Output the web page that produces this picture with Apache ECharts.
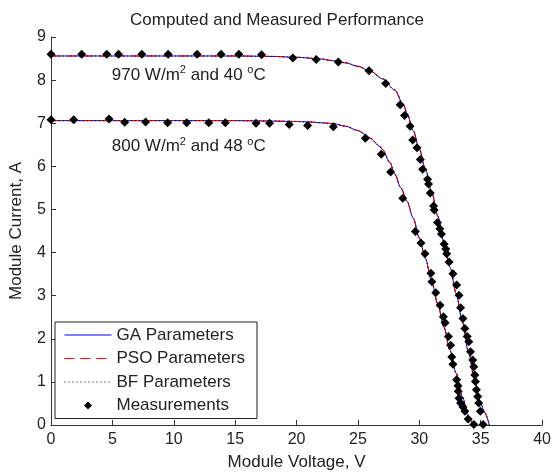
<!DOCTYPE html>
<html>
<head>
<meta charset="utf-8">
<title>Computed and Measured Performance</title>
<script src="https://cdn.jsdelivr.net/npm/echarts@6/dist/echarts.min.js"></script>
<style>
  html, body { margin: 0; padding: 0; background: #fff; }
  #chart { width: 554px; height: 476px; }
</style>
</head>
<body>
<div id="chart"></div>
<script>
// 模型曲线 (GA / PSO / BF 三组参数的曲线在图上重合)
var voltsHigh = [0, 5, 10, 15, 18, 20, 22, 23, 24, 25, 26, 27, 28, 28.7, 29, 29.5, 30, 30.5, 31, 31.5, 32, 32.5, 33, 33.5, 34, 34.5, 35, 35.3, 35.7];
var ampsHigh  = [8.56, 8.56, 8.56, 8.56, 8.55, 8.53, 8.49, 8.45, 8.40, 8.32, 8.21, 8.03, 7.77, 7.43, 7.23, 6.83, 6.40, 5.93, 5.41, 4.85, 4.25, 3.66, 3.05, 2.40, 1.70, 1.05, 0.50, 0.30, 0];

var voltsLow = [0, 5, 10, 15, 18, 20, 21, 22, 23, 24, 25, 25.6, 26, 26.8, 27, 27.6, 28, 28.5, 29, 29.5, 30, 30.5, 31, 31.5, 32, 32.5, 33, 33.5, 34, 34.35];
var ampsLow  = [7.06, 7.06, 7.06, 7.06, 7.05, 7.04, 7.03, 7.01, 6.99, 6.93, 6.83, 6.74, 6.65, 6.46, 6.39, 6.09, 5.82, 5.50, 5.19, 4.80, 4.34, 3.86, 3.33, 2.81, 2.27, 1.73, 1.20, 0.66, 0.18, 0];

// 实测点
var measVHigh = [0, 2.5, 4.54, 5.5, 7.4, 9.54, 11.9, 13.85, 15.3, 17.15, 19.7, 21.6, 23.4, 25.9, 27.26, 28.44, 28.79, 29.25, 29.46, 29.81, 30.08, 30.27, 30.67, 30.75, 30.89, 31.16, 31.21, 31.48, 31.67, 31.8, 32.02, 32.15, 32.23, 32.42, 32.74, 33.04, 33.23, 33.36, 33.55, 33.71, 33.9, 34.03, 34.17, 34.35, 34.44, 34.52, 34.57, 34.65, 34.76, 34.84, 34.97, 35.19];
var measIHigh = [8.60, 8.60, 8.60, 8.60, 8.60, 8.60, 8.60, 8.60, 8.60, 8.59, 8.51, 8.48, 8.42, 8.22, 7.92, 7.43, 7.18, 6.93, 6.61, 6.43, 6.16, 5.93, 5.70, 5.59, 5.38, 5.08, 4.99, 4.70, 4.55, 4.43, 4.20, 4.08, 3.97, 3.78, 3.51, 3.25, 3.01, 2.72, 2.47, 2.24, 2.05, 1.93, 1.70, 1.51, 1.35, 1.16, 1.01, 0.82, 0.66, 0.51, 0.32, 0.01];

var measVLow = [0, 1.85, 4.73, 6.0, 7.7, 9.5, 11.05, 12.85, 14.2, 16.7, 17.8, 19.4, 20.9, 23.0, 25.6, 26.9, 27.66, 28.65, 29.68, 30.13, 30.46, 30.94, 31.02, 31.34, 31.69, 31.96, 32.1, 32.37, 32.55, 32.64, 32.74, 33.04, 33.15, 33.17, 33.23, 33.36, 33.55, 33.71, 33.98, 34.44];
var measILow = [7.08, 7.08, 7.10, 7.02, 7.03, 7.01, 7.01, 7.01, 7.01, 7.00, 7.00, 6.97, 6.95, 6.92, 6.65, 6.28, 5.87, 5.26, 4.49, 4.22, 3.97, 3.52, 3.32, 3.07, 2.78, 2.51, 2.37, 2.05, 1.85, 1.58, 1.41, 1.05, 0.91, 0.78, 0.62, 0.51, 0.42, 0.32, 0.14, 0.01];

// 刻度
var xTicks = [0, 5, 10, 15, 20, 25, 30, 35, 40];
var yTicks = [0, 1, 2, 3, 4, 5, 6, 7, 8, 9];

var legendNames = ['GA Parameters', 'PSO Parameters', 'BF Parameters', 'Measurements'];

// 标注文字
var noteHigh = { v: 4.95, i: 8.12, text: '970 W/m{sup|2} and 40 {sup|o}C' };
var noteLow  = { v: 4.95, i: 6.47, text: '800 W/m{sup|2} and 48 {sup|o}C' };

var FONT = '"Liberation Sans", Arial, Helvetica, sans-serif';
var INK = '#222';
var DIAMOND = 'path://M0,-1L1,0L0,1L-1,0Z';

function pairs(xs, ys) {
  return xs.map(function (x, k) { return [x, ys[k]]; });
}

function modelSeries(name, color, type, xs, ys) {
  return {
    name: name,
    type: 'line',
    data: pairs(xs, ys),
    symbol: 'none',
    smooth: 0.3,
    smoothMonotone: 'x',
    silent: true,
    lineStyle: { color: color, width: 1, type: type },
    itemStyle: { color: color }
  };
}

function measSeries(xs, ys) {
  return {
    name: 'Measurements',
    type: 'scatter',
    data: pairs(xs, ys),
    symbol: 'diamond',
    symbolSize: 9,
    itemStyle: { color: '#000', opacity: 1 },
    z: 5
  };
}

function noteSeries(note) {
  return {
    name: 'note',
    type: 'scatter',
    data: [[note.v, note.i]],
    symbolSize: 0,
    itemStyle: { color: '#000', opacity: 1 },
    silent: true,
    label: {
      show: true,
      position: 'right',
      distance: 0,
      formatter: note.text,
      fontFamily: FONT,
      fontSize: 17,
      lineHeight: 20,
      color: INK,
      rich: {
        sup: { fontFamily: FONT, fontSize: 11, lineHeight: 11, verticalAlign: 'top', color: INK }
      }
    }
  };
}

// 图例里的线条不要圆点
function lineLegend(name) {
  return { name: name, itemStyle: { opacity: 0 } };
}

var chart = echarts.init(document.getElementById('chart'), null, { renderer: 'canvas' });

var axisCommon = {
  axisLine: { show: true, lineStyle: { color: '#333', width: 1 } },
  axisTick: { show: true, inside: true, length: 5, lineStyle: { color: '#333' } },
  splitLine: { show: false },
  axisLabel: { fontFamily: FONT, fontSize: 16, color: INK },
  nameTextStyle: { fontFamily: FONT, fontSize: 17, color: INK }
};

chart.setOption({
  animation: false,
  backgroundColor: '#fff',
  title: {
    text: 'Computed and Measured Performance',
    left: 'center',
    top: 7,
    textStyle: { fontFamily: FONT, fontSize: 17, fontWeight: 'normal', color: INK }
  },
  grid: { left: 48, right: 10, top: 37, bottom: 49 },
  legend: {
    orient: 'vertical',
    left: 55,
    top: 322,
    data: [
      lineLegend(legendNames[0]),
      lineLegend(legendNames[1]),
      lineLegend(legendNames[2]),
      { name: legendNames[3], icon: DIAMOND }
    ],
    itemWidth: 47,
    itemHeight: 8,
    itemGap: 5.5,
    symbolKeepAspect: true,
    lineStyle: { width: 1 },
    padding: [4, 12, 4, 9],
    borderColor: '#222',
    borderWidth: 1,
    backgroundColor: '#fff',
    selectedMode: false,
    textStyle: { fontFamily: FONT, fontSize: 17, lineHeight: 18, color: INK }
  },
  xAxis: echarts.util.merge({
    type: 'value',
    min: xTicks[0],
    max: xTicks[xTicks.length - 1],
    interval: xTicks[1] - xTicks[0],
    name: 'Module Voltage, V',
    nameLocation: 'middle',
    nameGap: 29,
    axisLabel: { margin: 7 }
  }, axisCommon, false),
  yAxis: echarts.util.merge({
    type: 'value',
    min: yTicks[0],
    max: yTicks[yTicks.length - 1],
    interval: yTicks[1] - yTicks[0],
    name: 'Module Current, A',
    nameLocation: 'middle',
    nameGap: 26,
    axisLabel: { margin: 5 }
  }, axisCommon, false),
  series: [
    modelSeries('GA Parameters', '#0000ff', 'solid', voltsHigh, ampsHigh),
    modelSeries('GA Parameters', '#0000ff', 'solid', voltsLow, ampsLow),
    modelSeries('PSO Parameters', '#ff0000', [10, 6], voltsHigh, ampsHigh),
    modelSeries('PSO Parameters', '#ff0000', [10, 6], voltsLow, ampsLow),
    modelSeries('BF Parameters', '#000000', [1, 3], voltsHigh, ampsHigh),
    modelSeries('BF Parameters', '#000000', [1, 3], voltsLow, ampsLow),
    measSeries(measVHigh, measIHigh),
    measSeries(measVLow, measILow),
    noteSeries(noteHigh),
    noteSeries(noteLow)
  ]
});
</script>
</body>
</html>
